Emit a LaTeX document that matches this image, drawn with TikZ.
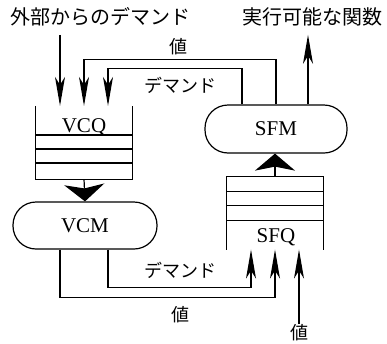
\documentclass[tikz,border=0pt]{standalone}
\usepackage{fontspec}
\setmainfont{Liberation Serif}
\newfontfamily\jpfont{Noto Sans CJK JP}
\usetikzlibrary{arrows.meta,positioning}

\begin{document}
\begin{tikzpicture}[
  x=1pt, y=-1pt,
  line width=1.2pt,
  font=\fontsize{21}{25}\selectfont,
  module/.style={
    draw,
    rounded corners=23pt,
    minimum width=144pt,
    minimum height=47pt,
    inner sep=0pt
  },
  queue/.style={minimum width=96pt, minimum height=72pt, inner sep=0pt},
  qname/.style={anchor=base, inner sep=0pt},
  jtitle/.style={font=\jpfont\fontsize{20}{24}\selectfont, inner sep=0pt},
  jlabel/.style={font=\jpfont\fontsize{18}{22}\selectfont, inner sep=0pt},
  wire/.style={-{Stealth[length=29pt,width=10pt,inset=8pt]}},
  bigflow/.style={-{Stealth[length=17pt,width=40pt,inset=4pt]}}
]
  \useasboundingbox (0,0) rectangle (387,343);

  \node[queue] (vcq) at (84,142.5) {};
  \node[queue] (sfq) at (275,213) {};
  \node[module] (vcm) at (85,225.5) {VCM};
  \node[module,minimum width=142pt,minimum height=48pt] (sfm) at (276,129) {SFM};
  \node[qname] (vcqname) at (84,132) {VCQ};
  \node[qname] (sfqname) at (276,242) {SFQ};

  \draw (vcq.north west) -- (vcq.south west) -- (vcq.south east) -- (vcq.north east);
  \foreach \d in {29,43,57}
    \draw ([yshift=-\d pt]vcq.north west) -- ([yshift=-\d pt]vcq.north east);
  \draw (sfq.south west) -- (sfq.north west) -- (sfq.north east) -- (sfq.south east);
  \foreach \d in {29,44,58}
    \draw ([yshift=\d pt]sfq.south west) -- ([yshift=\d pt]sfq.south east);

  \node[jtitle] (extdemand) at (100,17) {外部からのデマンド};
  \node[jtitle] (execfn) at (312,17) {実行可能な関数};
  \node[jlabel] (valtop) at (178,47) {値};
  \node[jlabel] (demtop) at (180,85) {デマンド};
  \node[jlabel] (dembottom) at (180,270) {デマンド};
  \node[jlabel] (valmid) at (180,315) {値};
  \node[jlabel] (valbottom) at (299,333) {値};

  \coordinate (vcqin1) at ([xshift=-24pt]vcq.north);
  \coordinate (vcqin3) at ([xshift=24pt]vcq.north);
  \coordinate (sfqin1) at ([xshift=-24pt]sfq.south);
  \coordinate (sfqin3) at ([xshift=24pt]sfq.south);
  \coordinate (sfmout) at ([xshift=32pt]sfm.north);

  \draw[wire,shorten <=8pt] (extdemand.south -| vcqin1) -- (vcqin1);
  \draw[wire] (sfm.north) -- ++(0,-45) -| (vcq.north);
  \draw[wire] ([xshift=-34pt]sfm.north) -- ++(0,-36) -| (vcqin3);
  \draw[wire,shorten >=8pt] (sfmout) -- (sfmout |- execfn.south);

  \draw[bigflow] (vcq.south) -- (vcm.north);
  \draw[bigflow] (sfq.north) -- (sfq.north |- sfm.south);

  \draw[wire] ([xshift=-25pt]vcm.south) -- ++(0,48) -| (sfq.south);
  \draw[wire] ([xshift=23pt]vcm.south) -- ++(0,38) -| (sfqin1);
  \draw[wire] (valbottom.north) -- (sfqin3);
\end{tikzpicture}
\end{document}
